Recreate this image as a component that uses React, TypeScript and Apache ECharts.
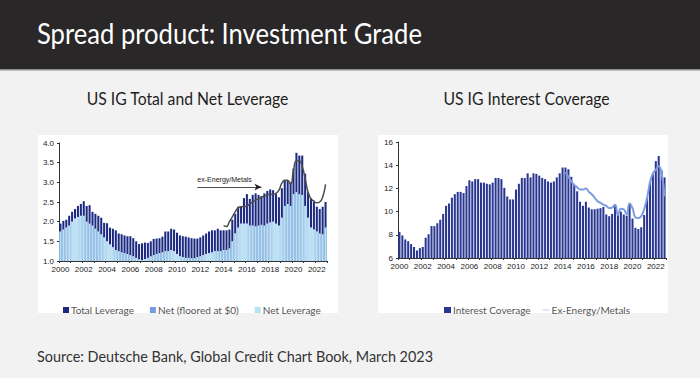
import React, { useEffect, useRef } from 'react';
import * as echarts from 'echarts';

const startYear = 2000;
const endYear = 2022;
const quarters: string[] = [];
for (let y = startYear; y <= endYear; y++) {
  for (let q = 1; q <= 4; q++) quarters.push(`${y}Q${q}`);
}

// US IG Total Leverage (quarterly 2000Q1 - 2022Q4)
const totalLeverage = [
  1.95, 2.02, 2.05, 2.15,
  2.25, 2.32, 2.40, 2.45,
  2.52, 2.40, 2.42, 2.25,
  2.20, 2.15, 2.10, 1.97,
  1.96, 1.85, 1.82, 1.78,
  1.70, 1.68, 1.65, 1.63,
  1.63, 1.58, 1.50, 1.43,
  1.45, 1.47, 1.46, 1.50,
  1.56, 1.57, 1.58, 1.62,
  1.75, 1.75, 1.82, 1.80,
  1.72, 1.65, 1.63, 1.62,
  1.60, 1.58, 1.57, 1.57,
  1.60, 1.65, 1.70, 1.75,
  1.78, 1.78, 1.82, 1.78,
  1.78, 1.78, 1.80, 2.05,
  2.20, 2.38, 2.40, 2.60,
  2.70, 2.58, 2.68, 2.72,
  2.68, 2.65, 2.72, 2.78,
  2.82, 2.80, 2.70, 2.62,
  2.85, 3.05, 3.05, 3.00,
  3.35, 3.75, 3.68, 3.68,
  3.22, 2.75, 2.60, 2.50,
  2.38, 2.32, 2.38, 2.50,
];

// US IG Net Leverage
const netLeverage = [
  1.75, 1.80, 1.85, 1.90,
  2.00, 2.08, 2.12, 2.15,
  2.15, 2.00, 1.95, 1.90,
  1.82, 1.75, 1.68, 1.60,
  1.50, 1.42, 1.35, 1.28,
  1.25, 1.22, 1.20, 1.18,
  1.15, 1.12, 1.08, 1.04,
  1.02, 1.05, 1.08, 1.12,
  1.15, 1.18, 1.20, 1.22,
  1.25, 1.25, 1.28, 1.25,
  1.18, 1.12, 1.10, 1.08,
  1.08, 1.07, 1.07, 1.10,
  1.12, 1.15, 1.18, 1.20,
  1.22, 1.25, 1.25, 1.25,
  1.28, 1.28, 1.32, 1.50,
  1.70, 1.85, 1.95, 1.95,
  1.95, 1.90, 1.90, 1.88,
  1.90, 1.92, 1.90, 1.95,
  1.98, 2.00, 1.95, 1.90,
  2.10, 2.40, 2.45, 2.40,
  2.70, 2.75, 2.70, 2.68,
  2.40, 2.10, 1.85, 1.80,
  1.75, 1.70, 1.68, 1.85,
];

// Net leverage floored at $0 (never negative here, so equal to net)
const netFloored = [...netLeverage];

// Ex-Energy/Metals total leverage (from 2014Q1)
const exEnergyLeverage = [
  1.90, 1.88, 2.00, 2.12,
  2.25, 2.35, 2.38, 2.38,
  2.40, 2.45, 2.50, 2.55,
  2.58, 2.62, 2.65, 2.68,
  2.70, 2.70, 2.72, 2.80,
  2.98, 3.05, 3.05, 2.95,
  3.30, 3.55, 3.55, 3.40,
  3.10, 2.75, 2.58, 2.52,
  2.48, 2.50, 2.62, 2.95,
];
const exEnergyLeverageStart = '2014Q1';

// US IG Interest Coverage
const interestCoverage = [
  8.25, 7.95, 7.60, 7.45,
  7.20, 6.95, 6.65, 6.85,
  6.95, 7.75, 8.05, 8.75,
  8.75, 9.00, 9.30, 9.80,
  10.50, 10.70, 11.20, 11.50,
  11.70, 11.70, 11.60, 12.20,
  12.70, 12.60, 12.80, 12.80,
  12.50, 12.50, 12.40, 12.35,
  12.50, 12.90, 12.90, 12.80,
  12.05, 11.30, 11.05, 11.05,
  11.90, 12.40, 12.90, 12.90,
  13.30, 12.95, 13.30, 13.25,
  13.10, 12.90, 12.80, 12.60,
  12.50, 12.60, 12.95, 13.30,
  13.80, 13.80, 13.65, 13.00,
  12.30, 11.75, 10.85, 10.50,
  10.85, 10.35, 10.20, 10.20,
  10.25, 10.30, 10.40, 9.75,
  9.60, 9.80, 10.60, 9.70,
  10.00, 9.75, 9.65, 10.70,
  9.40, 8.60, 8.50, 8.65,
  9.70, 11.20, 12.60, 13.20,
  14.35, 14.80, 13.55, 12.95,
];

// Ex-Energy/Metals interest coverage (from 2014Q2)
const exEnergyCoverage = [
  13.40, 13.00, 12.60,
  12.30, 12.10, 11.90, 11.90,
  12.00, 11.70, 11.50, 11.20,
  10.90, 10.75, 10.60, 10.50,
  10.30, 10.35, 10.60, 9.70,
  10.25, 10.20, 9.75, 10.70,
  10.30, 9.50, 9.45, 9.60,
  10.20, 11.20, 12.50, 13.30,
  13.60, 13.90, 13.30, 11.30,
];
const exEnergyCoverageStart = '2014Q2';

const leftTicks = { min: 1, max: 4, interval: 0.5 };
const rightTicks = { min: 6, max: 16, interval: 2 };

const padFrom = (arr: number[], start: string) => {
  const idx = quarters.indexOf(start);
  return quarters.map((_, i) => (i >= idx && i - idx < arr.length ? arr[i - idx] : null));
};

const FONT = 'Lato, "Open Sans", sans-serif';
const AXFONT = '"Liberation Sans", Arial, sans-serif';

export default function App() {
  const ref = useRef<HTMLDivElement>(null);
  useEffect(() => {
    if (!ref.current) return;
    const chart = echarts.init(ref.current, null, { renderer: 'svg' });

    const xAxisCommon = {
      type: 'category' as const,
      data: quarters,
      boundaryGap: true,
      axisLine: { lineStyle: { color: '#333', width: 1 } },
      axisTick: { show: true, interval: 3, length: 2, lineStyle: { color: '#333' } },
      axisLabel: {
        interval: 7,
        formatter: (v: string) => v.slice(0, 4),
        fontSize: 8,
        color: '#222',
        fontFamily: AXFONT,
        margin: 4,
      },
    };
    const yAxisCommon = {
      type: 'value' as const,
      splitLine: { show: false },
      axisLine: { show: true, lineStyle: { color: '#333', width: 1 } },
      axisTick: { show: true, length: 2, lineStyle: { color: '#333' } },
      axisLabel: {
        fontSize: 8,
        color: '#222',
        fontFamily: AXFONT,
        margin: 5,
      },
    };

    chart.setOption({
      animation: false,
      backgroundColor: '#f2f2f2',
      graphic: [
        { type: 'rect', shape: { x: 0, y: 0, width: 700, height: 69.5 }, style: { fill: '#292728' }, z: -10 },
        { type: 'rect', shape: { x: 0, y: 69.5, width: 700, height: 1 }, style: { fill: '#8c8c8c' }, z: -10 },
        { type: 'rect', shape: { x: 38, y: 135, width: 300, height: 178 }, style: { fill: '#ffffff' }, z: -10 },
        { type: 'rect', shape: { x: 378, y: 135, width: 290, height: 178 }, style: { fill: '#ffffff' }, z: -10 },
        {
          type: 'text', x: 37, y: 34, scaleX: 0.915,
          style: { text: 'Spread product: Investment Grade', fill: '#ffffff', fontSize: 28, fontWeight: 400, fontFamily: FONT, verticalAlign: 'middle' },
        },
        {
          type: 'text', x: 187.5, y: 98.5, scaleX: 0.9,
          style: { text: 'US IG Total and Net Leverage', fill: '#1e1e1e', fontSize: 17.5, fontWeight: 400, fontFamily: FONT, align: 'center', verticalAlign: 'middle' },
        },
        {
          type: 'text', x: 526.5, y: 98.5, scaleX: 0.9,
          style: { text: 'US IG Interest Coverage', fill: '#1e1e1e', fontSize: 17.5, fontWeight: 400, fontFamily: FONT, align: 'center', verticalAlign: 'middle' },
        },
        {
          type: 'text', x: 37, y: 356, scaleX: 0.9,
          style: { text: 'Source: Deutsche Bank, Global Credit Chart Book, March 2023', fill: '#333333', fontSize: 16, fontWeight: 400, fontFamily: FONT, verticalAlign: 'middle' },
        },
      ],
      legend: [
        {
          left: 58, top: 300,
          itemWidth: 6, itemHeight: 6, itemGap: 16,
          icon: 'rect',
          textStyle: { fontSize: 10, color: '#555', fontFamily: FONT, padding: [0, 0, 0, -3] },
          data: ['Total Leverage', 'Net (floored at $0)', 'Net Leverage'],
        },
        {
          left: 439, top: 300,
          itemWidth: 7, itemHeight: 6, itemGap: 12,
          textStyle: { fontSize: 10, color: '#555', fontFamily: FONT, padding: [0, 0, 0, -3] },
          data: [
            { name: 'Interest Coverage', icon: 'rect' },
            { name: 'Ex-Energy/Metals', icon: 'path://M0,5 L10,5 L10,5.8 L0,5.8 Z', itemStyle: { color: '#8fa6e0' } },
          ],
        },
      ],
      grid: [
        { left: 59, right: 700 - 327, top: 143, height: 118 },
        { left: 398, right: 700 - 666, top: 142, height: 116 },
      ],
      xAxis: [
        { ...xAxisCommon, gridIndex: 0 },
        { ...xAxisCommon, gridIndex: 1 },
      ],
      yAxis: [
        { ...yAxisCommon, gridIndex: 0, ...leftTicks, axisLabel: { ...yAxisCommon.axisLabel, formatter: (v: number) => v.toFixed(1) } },
        { ...yAxisCommon, gridIndex: 1, ...rightTicks },
      ],
      series: [
        {
          name: 'Total Leverage', type: 'bar', xAxisIndex: 0, yAxisIndex: 0,
          data: totalLeverage, barGap: '-100%', barCategoryGap: '30%',
          itemStyle: { color: '#1b2a80' }, z: 2,
        },
        {
          name: 'Net (floored at $0)', type: 'bar', xAxisIndex: 0, yAxisIndex: 0,
          data: netFloored, barGap: '-100%', barCategoryGap: '30%',
          itemStyle: { color: '#7b99e0' }, z: 3,
        },
        {
          name: 'Net Leverage', type: 'bar', xAxisIndex: 0, yAxisIndex: 0,
          data: netLeverage, barGap: '-100%', barCategoryGap: '30%',
          itemStyle: { color: '#b6e2f6' }, z: 4,
        },
        {
          name: 'ex-Energy/Metals (lev)', type: 'line', xAxisIndex: 0, yAxisIndex: 0,
          data: padFrom(exEnergyLeverage, exEnergyLeverageStart),
          smooth: true, symbol: 'none', connectNulls: false,
          lineStyle: { color: '#4d4d4d', width: 1.5 }, z: 5,
          markLine: {
            silent: true, symbol: ['none', 'arrow'], symbolSize: [5, 7],
            lineStyle: { color: '#222', width: 0.8, type: 'solid' },
            label: { show: true, position: 'insideStartTop', formatter: 'ex-Energy/Metals', fontSize: 7, color: '#222', fontFamily: AXFONT, distance: [0, 4] },
            data: [[{ coord: [47, 2.88] }, { coord: [69, 2.88] }]],
          },
        },
        {
          name: 'Interest Coverage', type: 'bar', xAxisIndex: 1, yAxisIndex: 1,
          data: interestCoverage, barCategoryGap: '30%',
          itemStyle: { color: '#2a3791' }, z: 2,
        },
        {
          name: 'Ex-Energy/Metals', type: 'line', xAxisIndex: 1, yAxisIndex: 1,
          data: padFrom(exEnergyCoverage, exEnergyCoverageStart),
          smooth: true, symbol: 'none',
          lineStyle: { color: '#7d9be0', width: 2 }, itemStyle: { color: '#7d9be0' }, z: 5,
        },
      ],
    });
    return () => chart.dispose();
  }, []);

  return (
    <div
      ref={ref}
      style={{ position: 'fixed', left: 0, top: 0, width: 700, height: 378 }}
    />
  );
}
